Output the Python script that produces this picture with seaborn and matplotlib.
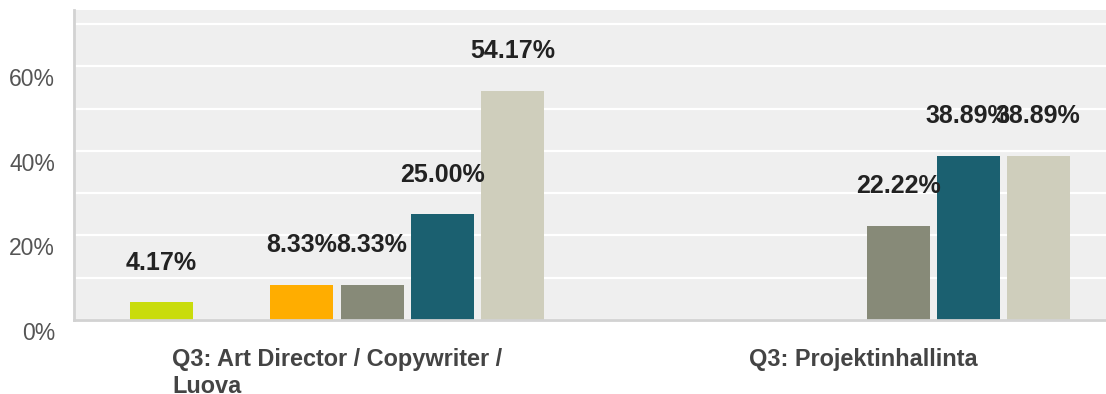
import matplotlib
matplotlib.use("Agg")
import matplotlib.pyplot as plt
import matplotlib.transforms as mtransforms
from matplotlib.ticker import MultipleLocator, FixedLocator
import pandas as pd
import seaborn as sns

# Survey results: share of respondents per answer option, by role group
categories = ["Q3: Art Director / Copywriter /\nLuova", "Q3: Projektinhallinta"]
answers = ["Vaihtoehto 1", "Vaihtoehto 2", "Vaihtoehto 3", "Vaihtoehto 4", "Vaihtoehto 5", "Vaihtoehto 6"]
art_director_values = [4.17, 0.0, 8.33, 8.33, 25.00, 54.17]
projektinhallinta_values = [0.0, 0.0, 0.0, 22.22, 38.89, 38.89]
answer_colors = ["#c9dc0c", "#6f8f9a", "#ffad00", "#878a78", "#1b6070", "#cfcebc"]
y_tick_values = [0, 20, 40, 60]

rows = []
for cat, vals in zip(categories, [art_director_values, projektinhallinta_values]):
    for ans, v in zip(answers, vals):
        rows.append({"category": cat, "answer": ans, "value": v})
df = pd.DataFrame(rows)

sns.set_theme(style="white")
plt.rcParams["font.family"] = ["Liberation Sans", "DejaVu Sans"]

W, H = 1106, 394
fig = plt.figure(figsize=(W / 100, H / 100), dpi=100)
ax_left, ax_bottom, ax_w, ax_h = 74, 74, 1052, 310
ax = fig.add_axes([ax_left / W, ax_bottom / H, ax_w / W, ax_h / H])
ax.set_facecolor("#efefef")

sns.barplot(
    data=df, x="category", y="value", hue="answer",
    hue_order=answers, order=categories,
    palette=answer_colors, width=0.8, gap=0.1,
    legend=False, ax=ax, errorbar=None, saturation=1,
    edgecolor="none", linewidth=0,
)

ax.set_xlim(-0.5, 1.5)
ax.set_ylim(0, 73.3)

# gridlines every 10 %, labels every 20 %
ax.yaxis.set_major_locator(FixedLocator(y_tick_values))
ax.yaxis.set_minor_locator(MultipleLocator(10))
ax.grid(which="both", axis="y", color="white", linewidth=1.6)
ax.set_axisbelow(True)
ax.set_yticklabels([f"{v}%" for v in y_tick_values])
ax.tick_params(axis="y", which="both", length=0, pad=13.5, labelsize=16.5, labelcolor="#555555")
offset = mtransforms.ScaledTranslation(0, -11 / 100, fig.dpi_scale_trans)
for lbl in ax.get_yticklabels():
    lbl.set_transform(lbl.get_transform() + offset)

ax.tick_params(axis="x", length=0, pad=20.5, labelsize=16.9, labelcolor="#444444")
for lbl in ax.get_xticklabels():
    lbl.set_fontweight("bold")
    lbl.set_multialignment("left")
    lbl.set_linespacing(1.2)

ax.set_xlabel("")
ax.set_ylabel("")

for side in ["top", "right"]:
    ax.spines[side].set_visible(False)
for side in ["left", "bottom"]:
    ax.spines[side].set_color("#d2d2d2")
    ax.spines[side].set_linewidth(2)

# value labels above each non-empty bar
for patch in ax.patches:
    h = patch.get_height()
    if h > 0:
        ax.annotate(
            f"{h:.2f}%",
            (patch.get_x() + patch.get_width() / 2, h),
            xytext=(0, 28.5), textcoords="offset points",
            ha="center", va="center", fontsize=18, fontweight="bold",
            color="#222222",
        )

fig.savefig("out.png", dpi=100, facecolor="white")
